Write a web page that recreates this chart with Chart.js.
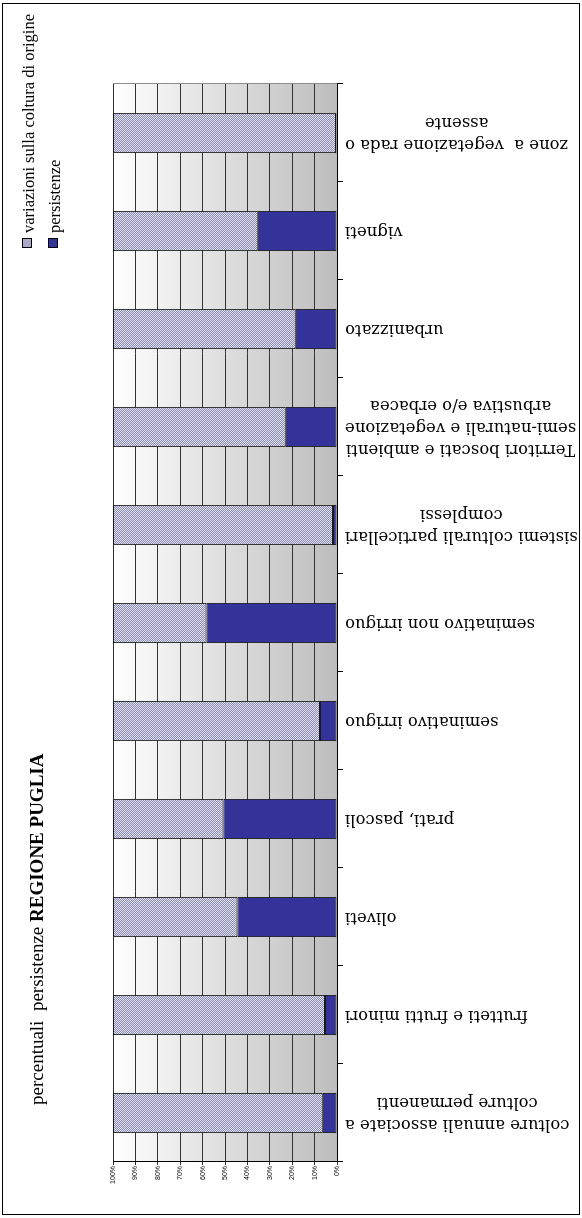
<!DOCTYPE html>
<html>
<head>
<meta charset="utf-8">
<script src="https://cdn.jsdelivr.net/npm/chart.js@4.4.1/dist/chart.umd.min.js"></script>
<style>
  body { margin: 0; width: 582px; height: 1218px; overflow: hidden; background: #fff; }
  #wrap { position: absolute; left: 0; top: 0; width: 1218px; height: 582px;
          transform-origin: 0 0; transform: translateY(1218px) rotate(-90deg); }
</style>
</head>
<body>
<div id="wrap"><canvas id="grafico" width="1218" height="582" style="width:1218px;height:582px"></canvas></div>
<script>
// categorie (da sinistra a destra nel grafico originale, prima della rotazione)
const categorie = [
  ['colture annuali associate a', 'colture permanenti'],
  ['frutteti e frutti minori'],
  ['oliveti'],
  ['prati, pascoli'],
  ['seminativo irriguo'],
  ['seminativo non irriguo'],
  ['sistemi colturali particellari', 'complessi'],
  ['Territori boscati e ambienti', 'semi-naturali e vegetazione', 'arbustiva e/o erbacea'],
  ['urbanizzato'],
  ['vigneti'],
  ['zone a  vegetazione rada o', 'assente']
];
const persistenze = [6.4, 5.4, 44.4, 50.7, 7.6, 58.3, 1.8, 22.9, 18.4, 35.4, 0.5];
const variazioni = [93.6, 94.6, 55.6, 49.3, 92.4, 41.7, 98.2, 77.1, 81.6, 64.6, 99.5];
const tickPercentuali = ['0%', '10%', '20%', '30%', '40%', '50%', '60%', '70%', '80%', '90%', '100%'];
const legenda = ['variazioni sulla coltura di origine', 'persistenze'];

const canvas = document.getElementById('grafico');
const ctx = canvas.getContext('2d');

// trama puntinata tipo Excel
const pc = document.createElement('canvas');
pc.width = 2; pc.height = 2;
const pctx = pc.getContext('2d');
pctx.fillStyle = '#e2e2ee'; pctx.fillRect(0, 0, 2, 2);
pctx.fillStyle = '#8a8ab2'; pctx.fillRect(0, 0, 1, 1); pctx.fillRect(1, 1, 1, 1);
const trama = ctx.createPattern(pc, 'repeat');

const decorazioni = {
  id: 'decorazioni',
  beforeDraw(chart) {
    const { ctx, chartArea: a, width, height } = chart;
    ctx.save();
    ctx.fillStyle = '#fff';
    ctx.fillRect(0, 0, width, height);
    const g = ctx.createLinearGradient(0, a.top, 0, a.bottom);
    g.addColorStop(0, '#ffffff');
    g.addColorStop(1, '#bdbdbd');
    ctx.fillStyle = g;
    ctx.fillRect(a.left, a.top, a.right - a.left, a.bottom - a.top);
    ctx.restore();
  },
  afterDraw(chart) {
    const { ctx, chartArea: a, width, height } = chart;
    const xs = chart.scales.x;
    ctx.save();
    // bordo destro area del grafico
    ctx.strokeStyle = '#8c8c8c';
    ctx.lineWidth = 1;
    ctx.beginPath();
    ctx.moveTo(a.right + 0.5, a.top);
    ctx.lineTo(a.right + 0.5, a.bottom);
    ctx.stroke();

    // etichette categorie, ruotate, righe centrate
    ctx.fillStyle = '#000';
    ctx.font = '16.5px "DejaVu Serif"';
    ctx.textBaseline = 'middle';
    ctx.textAlign = 'center';
    const lh = 22;
    categorie.forEach((righe, i) => {
      const cx = xs.getPixelForValue(i);
      const w = Math.max(...righe.map(r => ctx.measureText(r).width));
      ctx.save();
      ctx.translate(cx, a.bottom + 8);
      ctx.rotate(-Math.PI / 2);
      righe.forEach((r, k) => ctx.fillText(r, -w / 2, (k - (righe.length - 1) / 2) * lh));
      ctx.restore();
    });

    // titolo
    ctx.textAlign = 'left';
    ctx.textBaseline = 'alphabetic';
    ctx.font = '19px "Liberation Serif"';
    const t1 = 'percentuali  persistenze ';
    ctx.fillText(t1, 113, 43);
    const w1 = ctx.measureText(t1).width;
    ctx.font = 'bold 19px "Liberation Serif"';
    ctx.fillText('REGIONE PUGLIA', 113 + w1, 43);

    // legenda
    ctx.font = '16.5px "Liberation Serif"';
    ctx.textBaseline = 'middle';
    const colori = ['#a9a9c9', '#333399'];
    const yl = [27, 53];
    legenda.forEach((txt, i) => {
      ctx.fillStyle = colori[i];
      ctx.fillRect(971, yl[i] - 4, 8, 8);
      ctx.strokeStyle = '#000';
      ctx.strokeRect(970.5, yl[i] - 4.5, 9, 9);
      ctx.fillStyle = '#000';
      ctx.fillText(txt, 985, yl[i] + 3);
    });

    // cornice esterna
    ctx.strokeStyle = '#000';
    ctx.strokeRect(3.5, 2.5, width - 7, height - 5);
    ctx.restore();
  }
};

new Chart(canvas, {
  type: 'bar',
  data: {
    labels: categorie,
    datasets: [
      {
        label: legenda[1],
        data: persistenze,
        backgroundColor: '#333399',
        borderColor: '#1a1a1a',
        borderWidth: 1,
        borderSkipped: false,
        categoryPercentage: 1,
        barPercentage: 0.41
      },
      {
        label: legenda[0],
        data: variazioni,
        backgroundColor: trama,
        borderColor: '#1a1a1a',
        borderWidth: 1,
        borderSkipped: false,
        categoryPercentage: 1,
        barPercentage: 0.41
      }
    ]
  },
  options: {
    responsive: false,
    animation: false,
    devicePixelRatio: 1,
    layout: { padding: { left: 26, right: 84, top: 113, bottom: 239 } },
    plugins: {
      legend: { display: false },
      title: { display: false },
      tooltip: { enabled: false }
    },
    scales: {
      x: {
        stacked: true,
        ticks: { display: false },
        grid: { drawOnChartArea: false, tickLength: 6, color: '#000', offset: true },
        border: { color: '#000' },
        afterFit(s) { s.height = 6; }
      },
      y: {
        stacked: true,
        min: 0,
        max: 100,
        ticks: {
          stepSize: 10,
          padding: 1,
          color: '#000',
          font: { family: '"Liberation Sans"', size: 7 },
          callback: (v) => tickPercentuali[Math.round(v / 10)]
        },
        grid: { color: '#333', tickLength: 3 },
        border: { color: '#000' },
        afterFit(s) { s.width = 30; }
      }
    }
  },
  plugins: [decorazioni]
});
</script>
</body>
</html>
